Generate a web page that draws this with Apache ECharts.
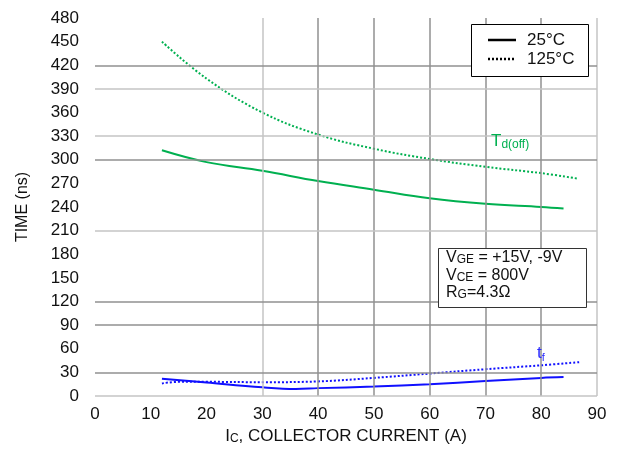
<!DOCTYPE html>
<html>
<head>
<meta charset="utf-8">
<script src="https://cdn.jsdelivr.net/npm/echarts@6/dist/echarts.min.js"></script>
<style>
html,body{margin:0;padding:0;background:#fff;}
#chart{width:619px;height:450px;}
</style>
</head>
<body>
<div id="chart"></div>
<script>
// ---- data ----
const xTicks = [0, 10, 20, 30, 40, 50, 60, 70, 80, 90];
const yTicks = [0, 30, 60, 90, 120, 150, 180, 210, 240, 270, 300, 330, 360, 390, 420, 450, 480];

const tdoff25_x = [12, 20, 30, 40, 50, 60, 70, 80, 84];
const tdoff25_y = [312, 297, 286, 273, 262, 251, 244, 240, 238];

const tdoff125_x = [12, 20, 30, 40, 50, 60, 70, 80, 86.6];
const tdoff125_y = [450, 403, 360, 332, 314, 301, 291, 283, 276];

const tf25_x = [12, 20, 30, 36, 40, 50, 60, 70, 80, 84];
const tf25_y = [22, 17, 11, 9, 10, 12, 15, 19, 23, 24];

const tf125_x = [12, 15, 20, 30, 40, 50, 60, 70, 80, 86.8];
const tf125_y = [16, 18, 18, 17.5, 18.5, 23, 28.5, 34, 39, 43];

const xGridLines = [30, 40, 50, 60, 70, 80, 90];
const yGridLines = [0, 30, 90, 120, 210, 300, 330, 390, 420];

const legendNames = ['25°C', '125°C'];

// ---- build ----
const pair = (xs, ys) => xs.map((x, i) => [x, ys[i]]);
const GREEN = '#00b050';
const BLUE = '#1010ff';
const lightX = new Set([30, 90]);
const lightY = new Set([0, 210, 330, 390]);
const gridColor = light => light ? '#c4c4c4' : '#909090';

const gridMarks = [];
xGridLines.forEach(v => gridMarks.push({xAxis: v, lineStyle: {color: gridColor(lightX.has(v)), width: 1.5, type: 'solid'}}));
yGridLines.forEach(v => gridMarks.push({yAxis: v, lineStyle: {color: gridColor(lightY.has(v)), width: 1.5, type: 'solid'}}));

const chart = echarts.init(document.getElementById('chart'));
const FONT = 'Liberation Sans, Arial, sans-serif';

chart.setOption({
  animation: false,
  backgroundColor: '#fff',
  textStyle: {fontFamily: FONT, color: '#111'},
  grid: {left: 95, right: 22, top: 18, bottom: 52, containLabel: false},
  xAxis: {
    type: 'value', min: 0, max: 90, interval: 10,
    axisLine: {show: false}, axisTick: {show: false}, splitLine: {show: false},
    axisLabel: {fontSize: 17, color: '#111', margin: 10, fontFamily: FONT},
    name: '{n|I}{s|C}{n|, COLLECTOR CURRENT (A)}',
    nameLocation: 'middle', nameGap: 30,
    nameTextStyle: {
      fontFamily: FONT, color: '#111',
      rich: {
        n: {fontSize: 17, lineHeight: 19, verticalAlign: 'bottom', fontFamily: FONT, color: '#111'},
        s: {fontSize: 12, lineHeight: 15, verticalAlign: 'bottom', fontFamily: FONT, color: '#111'}
      }
    }
  },
  yAxis: {
    type: 'value', min: 0, max: 480, interval: 30,
    axisLine: {show: false}, axisTick: {show: false}, splitLine: {show: false},
    axisLabel: {fontSize: 17, color: '#111', margin: 16, fontFamily: FONT},
    name: 'TIME (ns)', nameLocation: 'middle', nameGap: 64, nameRotate: 90,
    nameTextStyle: {fontSize: 16, color: '#111', fontFamily: FONT}
  },
  series: [
    {type: 'line', name: 'grid', data: [], silent: true, z: 1,
     markLine: {silent: true, symbol: ['none', 'none'], label: {show: false}, animation: false, data: gridMarks}},
    {type: 'line', name: 'Td(off) 25', data: pair(tdoff25_x, tdoff25_y), smooth: 0.4, symbol: 'none', z: 3,
     lineStyle: {color: GREEN, width: 2, type: 'solid'}},
    {type: 'line', name: 'Td(off) 125', data: pair(tdoff125_x, tdoff125_y), smooth: 0.4, symbol: 'none', z: 3,
     lineStyle: {color: GREEN, width: 2, type: 'dotted'}},
    {type: 'line', name: 'tf 25', data: pair(tf25_x, tf25_y), smooth: 0.4, symbol: 'none', z: 3,
     lineStyle: {color: BLUE, width: 2, type: 'solid'}},
    {type: 'line', name: 'tf 125', data: pair(tf125_x, tf125_y), smooth: 0.4, symbol: 'none', z: 3,
     lineStyle: {color: BLUE, width: 2, type: 'dotted'}}
  ],
  graphic: [
    // legend box
    {type: 'rect', left: 471, top: 24, shape: {width: 117, height: 52}, z: 10,
     style: {fill: '#fff', stroke: '#000', lineWidth: 1}},
    {type: 'line', z: 11, shape: {x1: 488, y1: 40, x2: 516, y2: 40},
     style: {stroke: '#000', lineWidth: 2.5}},
    {type: 'line', z: 11, shape: {x1: 488, y1: 59, x2: 516, y2: 59},
     style: {stroke: '#000', lineWidth: 2.5, lineDash: [2, 2]}},
    {type: 'text', z: 11, x: 527, y: 40,
     style: {text: legendNames[0], fontSize: 17, fontFamily: FONT, fill: '#111', verticalAlign: 'middle'}},
    {type: 'text', z: 11, x: 527, y: 59,
     style: {text: legendNames[1], fontSize: 17, fontFamily: FONT, fill: '#111', verticalAlign: 'middle'}},
    // conditions box
    {type: 'rect', left: 438, top: 248, shape: {width: 148, height: 59}, z: 10,
     style: {fill: '#fff', stroke: '#333', lineWidth: 1}},
    {type: 'text', left: 446, top: 250, z: 11,
     style: {
       text: '{b|V}{s|GE}{b| = +15V, -9V}\n{b|V}{s|CE}{b| = 800V}\n{b|R}{s|G}{b|=4.3Ω}',
       fontFamily: FONT,
       rich: {
         b: {fontSize: 16, lineHeight: 17.5, verticalAlign: 'bottom', fill: '#111', fontFamily: FONT},
         s: {fontSize: 12, lineHeight: 15, verticalAlign: 'bottom', fill: '#111', fontFamily: FONT}
       }
     }},
    // curve labels
    {type: 'text', left: 491, top: 133, z: 11,
     style: {
       text: '{t|T}{s|d(off)}',
       fontFamily: FONT,
       rich: {
         t: {fontSize: 17, lineHeight: 18, verticalAlign: 'top', fill: GREEN, fontFamily: FONT},
         s: {fontSize: 12, lineHeight: 10, verticalAlign: 'bottom', fill: GREEN, fontFamily: FONT}
       }
     }},
    {type: 'text', left: 537, top: 345, z: 11,
     style: {
       text: '{t|t}{s|f}',
       fontFamily: FONT,
       rich: {
         t: {fontSize: 17, lineHeight: 18, verticalAlign: 'top', fill: '#2a2aff', fontFamily: FONT},
         s: {fontSize: 11, lineHeight: 8, verticalAlign: 'bottom', fill: '#2a2aff', fontFamily: FONT}
       }
     }}
  ]
});
</script>
</body>
</html>
